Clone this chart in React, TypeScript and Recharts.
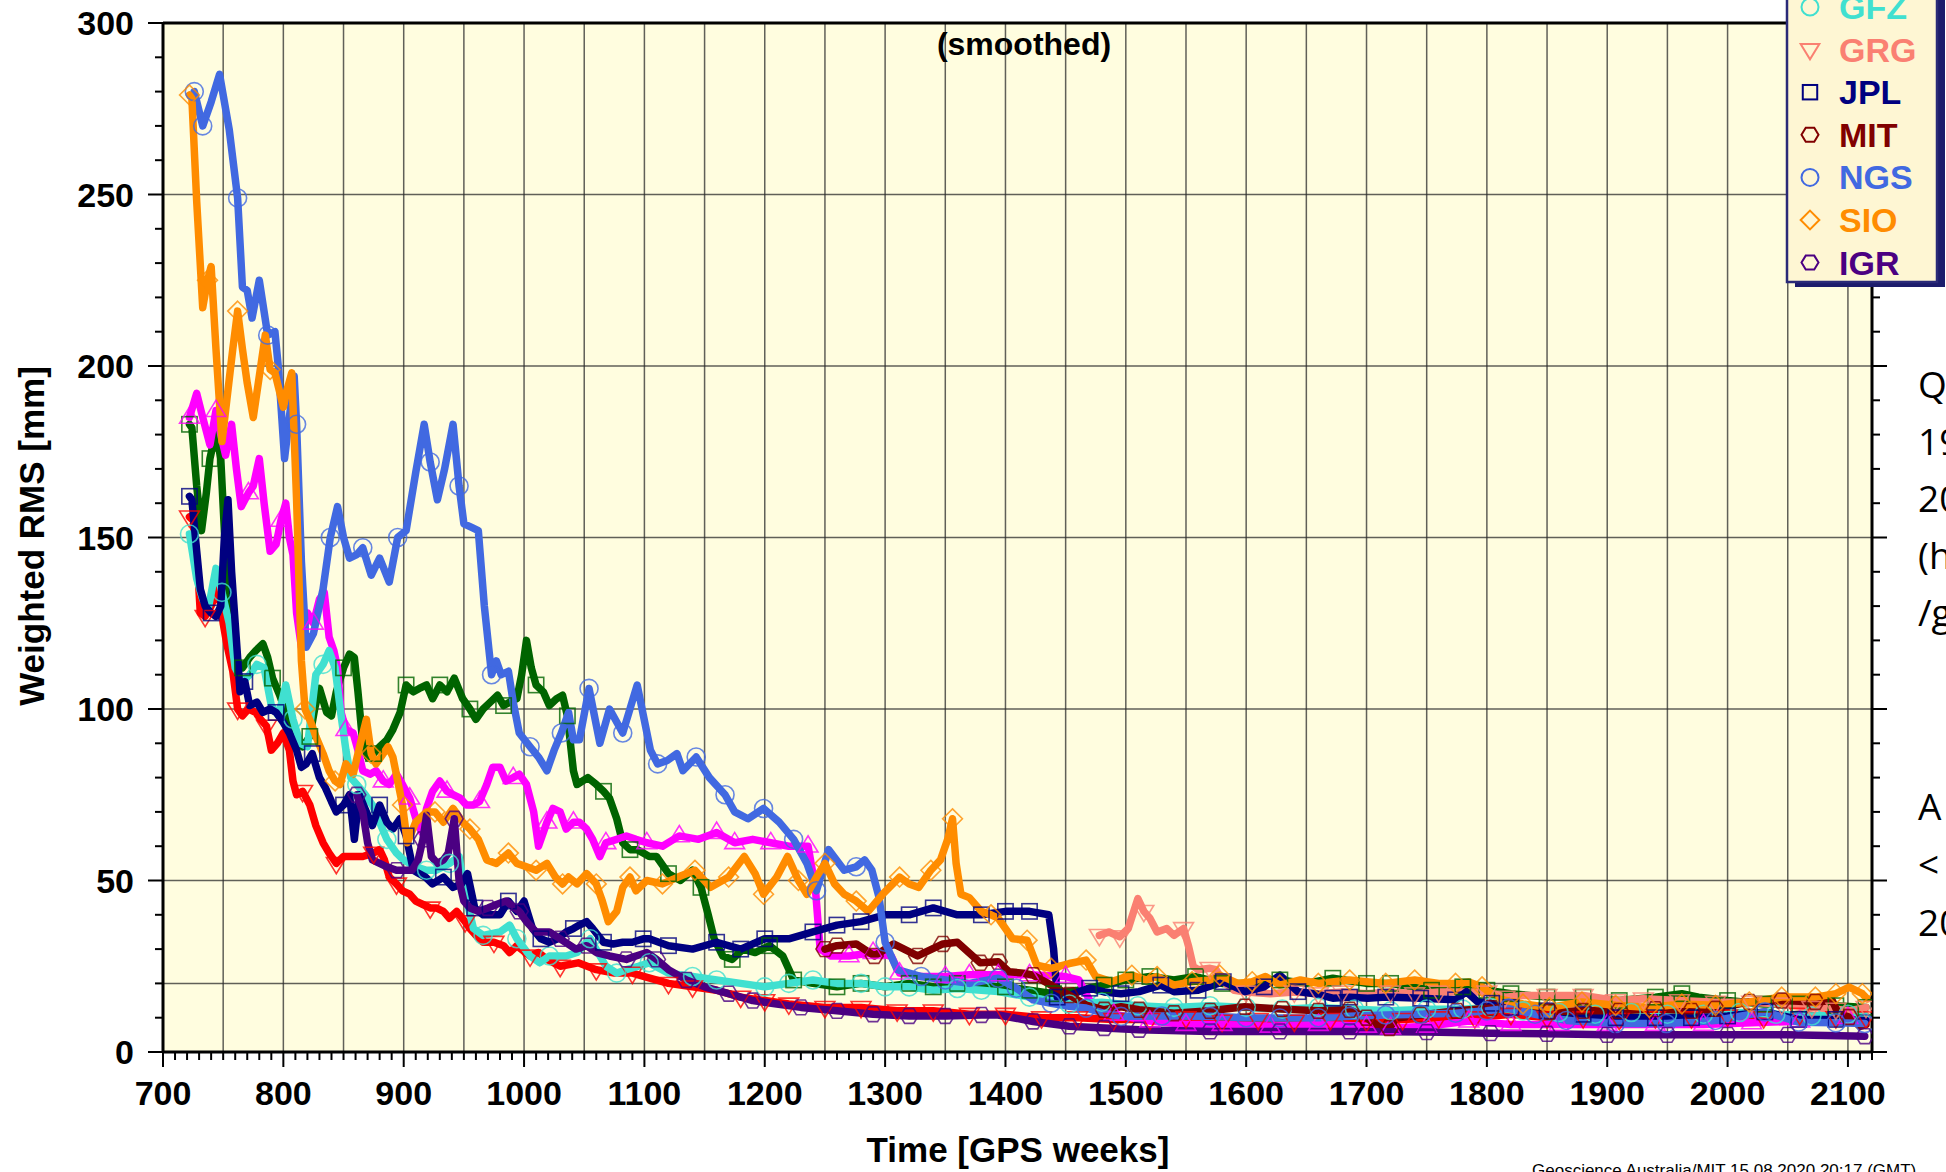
import React from 'react';
import { LineChart, Line, XAxis, YAxis, CartesianGrid } from 'recharts';

// ---------------- data (GPS week, weighted RMS in mm) ----------------
const codWeeks = [722,725,729,731,735,740,743,746,750,753,758,762,766,771,777,781,786,790,795,800,805,808,811,816,822,827,833,838,844,850,856,866,875,880,884,888,894,899,905,910,916,922,927,933,938,944,951,955,960,966,975,983,988,994,1005,1012,1019,1030,1045,1060,1075,1090,1100,1120,1140,1160,1180,1200,1220,1250,1280,1310,1340,1370,1400,1430,1460,1490,1520,1550,1580,1610,1640,1670,1700,1730,1760,1790,1820,1850,1880,1910,1940,1970,2000,2030,2060,2090,2115];
const codRms = [156,155,140,128,127,130,133,135,125,119,111,100,98,100,99,97,95,88,90,93,88,79,75,76,72,66,61,58,55,57,57,57,58,59,56,51,49,47,46,44,43,42,42,41,39,41,38,36,34,32,32,31,29,31,28,29,27,25,26,24,23,23,22,20,19,18,16,15,14,13,13,12,12,11,11,10,10,9.5,9.5,10,9,9.5,9,9.5,9,9.5,10,10,11,10,10,9.5,10,10,10.5,10,11,10,10];

const emrWeeks = [722,724,728,732,736,739,744,748,752,756,762,766,772,777,783,787,791,797,802,808,816,822,826,830,836,840,844,850,855,859,862,866,870,875,880,886,891,897,902,908,913,919,924,930,936,942,949,955,960,966,972,978,983,988,994,998,1002,1006,1010,1016,1021,1027,1032,1036,1041,1044,1053,1060,1066,1071,1077,1082,1088,1094,1099,1104,1110,1120,1130,1140,1147,1153,1158,1165,1173,1182,1192,1204,1215,1224,1240,1260,1280,1300,1320,1340,1360,1380,1400,1420,1440,1460,1482,1500,1520,1540,1558,1580,1600,1628,1650,1672,1700,1720,1754,1780,1800,1820,1850,1880,1910,1940,1962,1976,2000,2030,2060,2090,2115];
const emrRms = [183,182,165,152,163,173,181,173,145,130,114,112,115,117,119,115,109,104,99,93,89,92,100,106,99,98,105,112,116,115,105,90,86,87,89,91,94,99,107,105,106,107,103,107,105,109,103,100,97,100,102,104,101,102,103,110,120,112,107,105,101,103,104,98,82,78,80,78,76,74,68,61,59,59,58,57,57,52,50,53,48,40,33,28,27,30,29,31,28,21,20,19,20,19,20,19,20,19,19,18,17,18,19.5,21,22,21,22,20,20,21,20,21.5,20,20,18,19,18,17,16,16,15,16,17,16,15,14,14,13.5,13];

const esaWeeks = [722,728,733,739,744,748,752,757,761,765,771,775,780,784,789,794,798,802,805,808,811,815,820,825,830,834,838,842,845,848,852,858,862,866,872,877,883,888,894,899,905,911,915,919,924,930,936,941,947,952,958,963,969,974,980,985,991,996,1002,1008,1012,1019,1024,1030,1035,1041,1046,1052,1057,1063,1068,1077,1085,1093,1102,1115,1129,1145,1160,1175,1190,1205,1220,1236,1242,1246,1255,1270,1290,1305,1312,1330,1350,1370,1394,1420,1450,1461,1470,1490,1520,1550,1580,1620,1660,1700,1720,1750,1785,1820,1860,1900,1940,1980,2020,2060,2100,2115];
const esaRms = [185,192,185,177,187,180,174,183,170,159,163,165,173,160,146,148,155,160,150,145,128,118,128,125,132,134,121,117,112,99,94,93,88,82,81,82,79,78,81,78,74,67,64,71,76,79,76,75,74,72,72,73,78,83,83,79,80,81,78,70,60,67,71,70,65,67,67,65,62,57,61,62,63,62,61,60,63,62,64,61,62,61,60,60,48,30,28,28,29,28,23,22,22,22.5,22.5,22.5,22,21,15,11,9,8,8,7.5,8,7.5,7,7.5,9,8,8,8,8,8,8.5,9,10,9.5];

const gfzWeeks = [722,728,733,738,744,749,755,760,766,772,778,784,790,796,802,808,814,820,827,833,838,843,848,852,856,861,868,874,880,886,894,900,910,919,927,938,946,951,958,966,980,988,994,1005,1013,1021,1035,1044,1055,1068,1077,1085,1095,1104,1120,1140,1160,1180,1200,1220,1240,1260,1280,1300,1320,1340,1360,1380,1394,1420,1453,1480,1510,1540,1570,1600,1630,1660,1690,1720,1750,1780,1803,1830,1860,1890,1920,1950,1980,2010,2040,2070,2100,2115];
const gfzRms = [151,138,132,130,141,134,125,112,108,110,113,112,101,98,107,97,90,89,110,113,117,112,98,88,80,78,75,72,67,62,58,56,54,53,53,55,57,46,36,34,35,37,33,28,26,28,28,29,33,25,23,24,25,26,23,22,21,20,19,20,21,20,20,19,19,18,18.5,18,17.6,16,14,14.5,13.5,13,13.5,13,12.5,13,12.5,12,12.5,12.5,13,12,11.5,11,11.5,11,11,11.5,11,10.5,11,10.5];

const grgWeeks = [1478,1486,1495,1502,1510,1515,1520,1526,1534,1540,1548,1552,1556,1560,1570,1575,1581,1590,1600,1620,1640,1660,1680,1700,1720,1740,1760,1780,1800,1815,1830,1850,1880,1907,1930,1960,1990,2020,2045,2070,2090,2101,2115];
const grgRms = [34,35,33.6,36,44.7,41,39,35,36,34,36,31,25,24,24.4,24,20.5,18,17.5,17,17.5,17,17.5,17,17.5,17,17.5,17.5,17.5,16,16.5,16.5,16.5,15,15.5,15,14.5,14.5,14,13,12.5,12,13];

const jplWeeks = [722,724,728,731,735,740,744,748,751,754,757,760,764,768,772,778,783,789,794,800,805,811,815,819,824,830,835,840,844,850,855,859,863,869,874,880,886,891,897,902,908,913,918,924,933,941,948,953,959,966,972,980,987,994,1000,1007,1014,1021,1028,1035,1041,1046,1052,1057,1066,1074,1082,1090,1099,1104,1120,1140,1160,1180,1200,1220,1240,1260,1280,1300,1320,1340,1360,1380,1400,1420,1436,1440,1443,1450,1461,1470,1482,1496,1511,1529,1540,1560,1581,1599,1615,1628,1643,1657,1672,1686,1701,1716,1745,1774,1783,1792,1804,1820,1850,1880,1907,1940,1970,2000,2031,2059,2090,2115];
const jplRms = [162,161,146,135,130,128,127,130,150,161,140,125,105,108,101,102,99,100,99,96,93,88,83,84,87,80,77,73,70,72,75,62,75,70,66,72,67,65,68,63,53,52,51,49,51,48,49,52,42,40,40,40,44,41,44,36,33,32,33,35,36,37,38,36,32,31.5,32,32,33,33,31,30,32,30,33,33,35,37,38,40,40,42,40,40,41,41,40,30,16,16,17.6,18.6,17.5,17,17.6,19.5,17.6,18,20.5,17.6,19,22.4,17.6,17,15.7,16,15.7,16,15.7,15.2,17.6,14.7,14.2,13,12,11,10,10,10,10.5,11.7,9.5,9.5,9.2];

const mitWeeks = [1250,1260,1276,1291,1307,1327,1348,1360,1379,1394,1403,1415,1423,1438,1453,1467,1482,1496,1511,1540,1570,1599,1630,1660,1686,1700,1710,1719,1725,1745,1775,1804,1824,1852,1880,1910,1940,1970,1990,2018,2045,2073,2087,2092,2101,2110,2115];
const mitRms = [30,31,31.5,28,31.5,28,31.5,32,26,26.3,23.4,23,22.4,19.5,16.6,13.7,12.3,13.2,12.3,11.3,12,13.2,12.5,12,12.3,10,7.4,7,9.9,10.8,12,12.8,12.6,11.7,12,12,12.5,12,12.6,14.6,15,14.6,15,11.2,10.2,7.5,8];

const ngsWeeks = [726,733,740,747,755,762,766,770,774,780,787,793,796,801,805,809,811,815,819,825,833,839,845,850,855,861,866,873,880,888,895,902,910,917,922,928,934,941,946,950,956,962,967,973,977,981,987,991,996,1005,1012,1019,1025,1031,1037,1041,1046,1054,1063,1071,1082,1094,1105,1111,1119,1127,1132,1143,1154,1167,1175,1186,1199,1212,1224,1235,1243,1253,1266,1276,1283,1289,1295,1300,1310,1330,1350,1370,1394,1409,1423,1438,1453,1467,1482,1496,1530,1570,1600,1628,1660,1686,1716,1745,1774,1800,1818,1840,1866,1907,1949,1990,2031,2059,2090,2114];
const ngsRms = [280,270,277,285,269,249,223,222,214,225,209,210,199,173,185,197,183,143,118,122,135,150,159,150,144,145,147,139,144,137,150,152,169,183,172,161,170,183,165,154,153,152,130,110,114,110,111,102,93,89,86,82,88,93,99,91,91,106,90,100,93,107,88,84,85,87,82,86,80,75,70,68,71,67,62,55,47,59,53,54,56,53,45,32,24,22,21,20,21.5,18.6,15.2,14.2,13.3,12.8,11.3,10.4,10.5,10.4,10,9.9,10,10.4,10.8,11,11.3,12,12.8,11,9.2,8.3,8.3,9.2,11.7,8.7,8.5,8.3];

const sioWeeks = [722,724,728,733,737,740,744,749,753,758,762,766,770,775,780,785,789,793,800,803,807,811,815,818,823,827,833,838,843,847,852,858,864,869,873,877,883,887,891,895,899,903,910,919,926,933,941,949,955,962,969,977,987,994,1002,1010,1019,1026,1032,1037,1044,1052,1060,1065,1070,1077,1082,1088,1093,1102,1115,1128,1142,1155,1170,1183,1192,1199,1210,1219,1228,1235,1243,1250,1258,1266,1276,1286,1298,1312,1320,1328,1338,1346,1352,1356,1359,1363,1370,1380,1388,1394,1406,1418,1426,1438,1453,1467,1475,1488,1505,1517,1526,1540,1555,1570,1578,1593,1605,1616,1628,1645,1660,1686,1700,1716,1740,1760,1774,1785,1796,1810,1830,1852,1879,1907,1935,1962,1990,2018,2045,2073,2090,2101,2112,2116];
const sioRms = [279,278,248,217,225,229,205,178,190,205,216,205,195,185,197,209,199,198,188,193,198,161,114,100,96,92,87,82,79,78,84,81,90,97,87,84,87,89,86,79,72,61,67,70,70,67,71,67,65,62,56,55,58,55,54,53,55,51,49,51,49,52,49,44,38,41,48,51,47,50,49,51,53,48,51,57,52,46,51,57,50,46,51,55,49,46,44,41,46,51,49,48,53,56,62,68,55,46,45,41,40,39,33,32.6,25.3,24.4,25.8,26.8,22,20.5,22.4,21,22,19.5,20.5,21,22.4,20,20.5,22,19.5,21,20,21,20.5,20,21,20,20,20.4,19,15.5,14,13,14.6,13.6,13,14,13.6,14.6,16,16,17,18.9,17,15.5];

const igrWeeks = [861,866,870,874,880,886,894,902,907,912,916,919,923,928,933,937,942,946,950,955,962,970,977,985,996,1002,1010,1021,1030,1043,1052,1060,1071,1085,1093,1102,1110,1120,1135,1150,1170,1190,1210,1230,1260,1290,1320,1350,1380,1394,1423,1453,1482,1511,1570,1628,1686,1750,1803,1850,1900,1950,2000,2050,2114];
const igrRms = [75,70,61,56,55,54,53,53,53,56,62,69,57,55,56,58,68,50,44,42,41,42,43,44,41,38,35,35,33,30,31,29,28,27,28,29,27,24,21,19,17,15,14,13,12,11,10.5,10.5,10.8,10.8,8.9,7.5,7,6.5,6,6,6,5.8,5.5,5.3,5,5,5,5,4.6];

const xTicks = Array.from({ length: 143 }, (_, i) => 700 + i * 10);
const yTicks = Array.from({ length: 31 }, (_, i) => i * 10);
const gridWeeks = [750,800,850,900,950,1000,1050,1100,1150,1200,1250,1300,1350,1400,1450,1500,1550,1600,1650,1700,1750,1800,1850,1900,1950,2000,2050,2100];
const gridLevels = [20,50,100,150,200,250];
const sideText = ['Q', '19', '20', '(h', '/g'];
const sideText2 = ['A', '<', '20'];

type Shape = 'circle' | 'triDown' | 'triUp' | 'square' | 'hexagon' | 'diamond';
interface Series { name: string; color: string; shape: Shape; weeks: number[]; values: number[]; off: number }

const SERIES: Series[] = [
  { name: 'COD', color: '#FF0000', shape: 'triDown', weeks: codWeeks, values: codRms, off: 3 },
  { name: 'EMR', color: '#006400', shape: 'square', weeks: emrWeeks, values: emrRms, off: 8 },
  { name: 'ESA', color: '#FF00FF', shape: 'triUp', weeks: esaWeeks, values: esaRms, off: 14 },
  { name: 'GFZ', color: '#40E0D0', shape: 'circle', weeks: gfzWeeks, values: gfzRms, off: 20 },
  { name: 'GRG', color: '#FA8072', shape: 'triDown', weeks: grgWeeks, values: grgRms, off: 2 },
  { name: 'JPL', color: '#000080', shape: 'square', weeks: jplWeeks, values: jplRms, off: 11 },
  { name: 'MIT', color: '#800000', shape: 'hexagon', weeks: mitWeeks, values: mitRms, off: 17 },
  { name: 'NGS', color: '#4169E1', shape: 'circle', weeks: ngsWeeks, values: ngsRms, off: 0 },
  { name: 'SIO', color: '#FF8C00', shape: 'diamond', weeks: sioWeeks, values: sioRms, off: 6 },
  { name: 'IGR', color: '#4B0082', shape: 'hexagon', weeks: igrWeeks, values: igrRms, off: 23 },
];

const FONT = "'Liberation Sans', Arial, Helvetica, sans-serif";
const MARK_PERIOD = 27;

function Marker({ shape, cx, cy, color, r = 9, sw = 1.6, opacity = 0.8 }: any) {
  const common = { fill: 'none', stroke: color, strokeWidth: sw, strokeOpacity: opacity };
  switch (shape) {
    case 'circle':
      return <circle cx={cx} cy={cy} r={r} {...common} />;
    case 'triDown':
      return <polygon points={`${cx - r * 1.1},${cy - r * 0.65} ${cx + r * 1.1},${cy - r * 0.65} ${cx},${cy + r * 1.15}`} {...common} />;
    case 'triUp':
      return <polygon points={`${cx - r * 1.1},${cy + r * 0.65} ${cx + r * 1.1},${cy + r * 0.65} ${cx},${cy - r * 1.15}`} {...common} />;
    case 'square':
      return <rect x={cx - r * 0.85} y={cy - r * 0.85} width={r * 1.7} height={r * 1.7} {...common} />;
    case 'diamond':
      return <polygon points={`${cx},${cy - r * 1.1} ${cx + r * 1.1},${cy} ${cx},${cy + r * 1.1} ${cx - r * 1.1},${cy}`} {...common} />;
    case 'hexagon': {
      const pts = [0, 60, 120, 180, 240, 300].map((a) => {
        const t = (a * Math.PI) / 180;
        return `${cx + r * Math.cos(t)},${cy + r * 0.95 * Math.sin(t)}`;
      });
      return <polygon points={pts.join(' ')} {...common} />;
    }
    default:
      return null;
  }
}

function makeDot(s: Series) {
  return (p: any) => {
    const { cx, cy, index } = p;
    const key = `${s.name}-dot-${index}`;
    if (cx == null || cy == null) return <g key={key} />;
    const w = s.weeks[index];
    const prev = index > 0 ? s.weeks[index - 1] : null;
    const show = prev == null || Math.floor((w - s.off) / MARK_PERIOD) !== Math.floor((prev - s.off) / MARK_PERIOD);
    if (!show) return <g key={key} />;
    return (
      <g key={key}>
        <Marker shape={s.shape} cx={cx} cy={cy} color={s.color} />
      </g>
    );
  };
}

const BottomTick = (p: any) => {
  const { x, y, payload } = p;
  const v = payload.value;
  const major = v % 100 === 0;
  return (
    <g>
      <line x1={x} y1={y} x2={x} y2={y + (major ? 15 : 8)} stroke="#000" strokeWidth={2} />
      {major && (
        <text x={x} y={y + 53} textAnchor="middle" fontSize={34} fontWeight="bold" fontFamily={FONT} fill="#000">
          {v}
        </text>
      )}
    </g>
  );
};

const TopTick = (p: any) => {
  const { x, y, payload } = p;
  const major = payload.value % 100 === 0;
  return <line x1={x} y1={y} x2={x} y2={y - (major ? 14 : 7)} stroke="#000" strokeWidth={2} />;
};

const LeftTick = (p: any) => {
  const { x, y, payload } = p;
  const v = payload.value;
  const major = v % 50 === 0;
  return (
    <g>
      <line x1={x} y1={y} x2={x - (major ? 15 : 8)} y2={y} stroke="#000" strokeWidth={2} />
      {major && (
        <text x={x - 29} y={y + 12} textAnchor="end" fontSize={34} fontWeight="bold" fontFamily={FONT} fill="#000">
          {v}
        </text>
      )}
    </g>
  );
};

const RightTick = (p: any) => {
  const { x, y, payload } = p;
  const major = payload.value % 50 === 0;
  return <line x1={x} y1={y} x2={x + (major ? 15 : 8)} y2={y} stroke="#000" strokeWidth={2} />;
};

function Overlay() {
  const rowH = 42.6;
  const firstVisible = 3;
  return (
    <svg width={1946} height={1172} style={{ position: 'absolute', left: 0, top: 0, pointerEvents: 'none' }}>
      {/* subtitle */}
      <text x={1024} y={55} textAnchor="middle" fontSize={32} fontWeight="bold" fontFamily={FONT} fill="#000">
        (smoothed)
      </text>
      {/* axis titles */}
      <text x={1018} y={1162} textAnchor="middle" fontSize={35} fontWeight="bold" fontFamily={FONT} fill="#000">
        Time [GPS weeks]
      </text>
      <text transform="translate(44,536) rotate(-90)" textAnchor="middle" fontSize={35} fontWeight="bold" fontFamily={FONT} fill="#000">
        Weighted RMS [mm]
      </text>
      {/* footer */}
      <text x={1532} y={1176} fontSize={17} fontFamily={FONT} fill="#000">
        Geoscience Australia/MIT  15.08.2020 20:17 (GMT)
      </text>
      {/* legend */}
      <rect x={1795} y={-160} width={150} height={447} fill="#1C1C6C" />
      <rect x={1787} y={-165} width={150} height={447} fill="#FEF6D3" stroke="#2A2A78" strokeWidth={2.5} />
      {SERIES.map((s, i) => {
        const cy = 7 + (i - firstVisible) * rowH;
        return (
          <g key={s.name}>
            <Marker shape={s.shape} cx={1810} cy={cy} color={s.color} r={8.5} sw={2} opacity={1} />
            <text x={1839} y={cy + 12} fontSize={34} fontWeight="bold" fontFamily={FONT} fill={s.color}>
              {s.name}
            </text>
          </g>
        );
      })}
      {/* slide text at right, cut by the page edge */}
      {sideText.map((t, i) => (
        <text key={'a' + i} x={1918} y={398 + i * 57} fontSize={37} fontFamily="'Open Sans', 'Liberation Sans', sans-serif" fill="#000">
          {t}
        </text>
      ))}
      {sideText2.map((t, i) => (
        <text key={'b' + i} x={1918} y={820 + i * 58} fontSize={37} fontFamily="'Open Sans', 'Liberation Sans', sans-serif" fill="#000">
          {t}
        </text>
      ))}
    </svg>
  );
}

export default function App() {
  return (
    <div style={{ position: 'absolute', left: 0, top: 0, width: 1946, height: 1172, background: '#fff', overflow: 'hidden' }}>
      <LineChart width={1946} height={1172} margin={{ top: 13, right: 54, bottom: 80, left: 103 }}>
        <CartesianGrid
          xAxisId="b"
          yAxisId="l"
          fill="#FFFDDF"
          fillOpacity={1}
          stroke="#2b2b2b"
          strokeOpacity={0.75}
          strokeWidth={1.5}
          verticalValues={gridWeeks}
          horizontalValues={gridLevels}
          syncWithTicks={false}
        />
        <XAxis
          xAxisId="b"
          dataKey="week"
          type="number"
          scale="linear"
          domain={[700, 2120]}
          allowDataOverflow
          ticks={xTicks}
          interval={0}
          tick={<BottomTick />}
          tickSize={0}
          tickMargin={0}
          tickLine={false}
          axisLine={{ stroke: '#000', strokeWidth: 3 }}
          height={40}
        />
        <XAxis
          xAxisId="t"
          orientation="top"
          type="number"
          scale="linear"
          domain={[700, 2120]}
          allowDataOverflow
          ticks={xTicks}
          interval={0}
          tick={<TopTick />}
          tickSize={0}
          tickMargin={0}
          tickLine={false}
          axisLine={{ stroke: '#000', strokeWidth: 3 }}
          height={10}
        />
        <YAxis
          yAxisId="l"
          type="number"
          domain={[0, 300]}
          allowDataOverflow
          ticks={yTicks}
          interval={0}
          tick={<LeftTick />}
          tickSize={0}
          tickMargin={0}
          tickLine={false}
          axisLine={{ stroke: '#000', strokeWidth: 3 }}
          width={60}
        />
        <YAxis
          yAxisId="r"
          orientation="right"
          type="number"
          domain={[0, 300]}
          allowDataOverflow
          ticks={yTicks}
          interval={0}
          tick={<RightTick />}
          tickSize={0}
          tickMargin={0}
          tickLine={false}
          axisLine={{ stroke: '#000', strokeWidth: 3 }}
          width={20}
        />
        {SERIES.map((s) => {
          const data = s.weeks
            .map((w, i) => ({ week: w, rms: s.values[i] }))
            .filter((d) => d.rms !== undefined);
          return (
            <Line
              key={s.name}
              xAxisId="b"
              yAxisId="l"
              data={data}
              dataKey="rms"
              name={s.name}
              type="linear"
              stroke={s.color}
              strokeWidth={7.5}
              strokeLinejoin="round"
              strokeLinecap="round"
              dot={makeDot(s)}
              activeDot={false}
              isAnimationActive={false}
              connectNulls
            />
          );
        })}
      </LineChart>
      <Overlay />
    </div>
  );
}
